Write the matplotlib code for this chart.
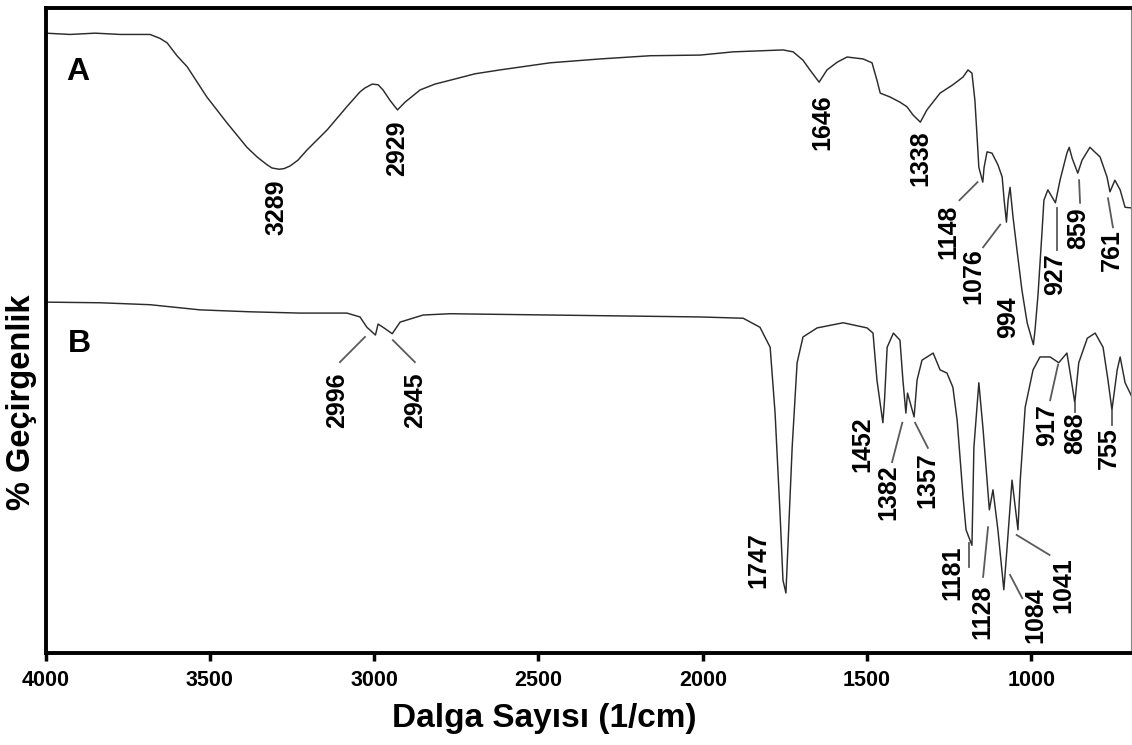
import matplotlib
matplotlib.use("Agg")
import matplotlib.pyplot as plt
from matplotlib import font_manager

# ---------------- data (y in arbitrary % transmittance) ----
wnA = [4000, 3925, 3849, 3773, 3682, 3652, 3630, 3600, 3569, 3509, 3448, 3387, 3356,
       3326, 3311, 3289, 3274, 3256, 3232, 3204, 3143, 3083, 3043, 3028, 3006, 2988,
       2973, 2952, 2929, 2906, 2860, 2815, 2769, 2693, 2617, 2465, 2313, 2160, 2008,
       1908, 1756, 1725, 1695, 1674, 1646, 1622, 1591, 1561, 1512, 1485, 1470, 1460,
       1430, 1400, 1379, 1360, 1338, 1318, 1278, 1239, 1208, 1193, 1181, 1172, 1166,
       1160, 1148, 1144, 1135, 1120, 1102, 1089, 1083, 1076, 1071, 1065, 1056, 1044,
       1029, 1013, 994, 989, 980, 968, 962, 950, 927, 913, 892, 885, 876, 859, 846, 822,
       791, 770, 761, 746, 730, 715, 694]
tA = [96.1, 95.9, 96.1, 95.9, 95.9, 95.3, 94.6, 92.6, 90.9, 86.2, 82.2, 78.4, 76.9,
      75.7, 75.2, 75.0, 75.1, 75.5, 76.4, 78.0, 81.1, 84.7, 87.0, 87.6, 88.2, 88.1,
      87.3, 85.7, 84.2, 85.4, 87.3, 88.2, 88.8, 89.8, 90.4, 91.5, 92.1, 92.6, 92.7,
      93.2, 93.5, 93.2, 91.9, 90.4, 88.5, 90.4, 91.6, 92.4, 92.1, 91.5, 88.8, 86.8,
      86.2, 85.4, 84.7, 83.4, 82.3, 84.2, 86.8, 88.1, 89.3, 90.4, 89.9, 85.7, 80.6,
      75.3, 73.0, 75.3, 77.7, 77.5, 75.7, 73.8, 70.2, 66.8, 70.2, 72.2, 67.6, 62.5,
      56.3, 51.2, 47.8, 50.1, 55.5, 65.1, 70.2, 71.8, 69.8, 73.3, 77.5, 78.4, 76.7,
      74.4, 76.4, 78.4, 76.9, 73.8, 71.5, 73.3, 71.8, 69.1, 69.0]

wnB = [4000, 3834, 3682, 3530, 3378, 3226, 3083, 3043, 3022, 2996, 2988, 2970, 2945,
       2921, 2851, 2769, 2465, 2160, 2008, 1877, 1826, 1795, 1780, 1765, 1756, 1747,
       1741, 1728, 1713, 1695, 1652, 1573, 1500, 1482, 1470, 1452, 1447, 1439, 1420,
       1400, 1391, 1382, 1377, 1357, 1348, 1333, 1299, 1278, 1257, 1239, 1226, 1208,
       1199, 1181, 1175, 1160, 1147, 1128, 1117, 1102, 1084, 1074, 1059, 1041, 1034,
       1019, 995, 974, 943, 917, 892, 882, 868, 856, 830, 806, 782, 767, 755, 739, 730,
       715, 694]
tB = [54.4, 54.3, 54.0, 53.2, 52.9, 52.7, 52.7, 52.1, 50.5, 49.3, 51.0, 50.4, 49.5,
      51.3, 52.4, 52.6, 52.4, 52.2, 52.1, 51.9, 50.5, 47.4, 37.2, 21.7, 11.3, 9.3,
      16.4, 31.9, 45.0, 49.0, 50.4, 51.2, 50.4, 49.6, 42.3, 35.7, 39.2, 47.4, 49.6,
      48.5, 42.3, 37.2, 40.3, 36.6, 42.3, 45.4, 46.5, 43.9, 43.4, 41.2, 36.1, 24.2,
      19.1, 16.7, 31.9, 41.9, 34.6, 22.2, 25.3, 19.1, 9.8, 16.4, 26.8, 19.1, 26.8,
      38.1, 43.9, 45.9, 45.9, 45.0, 46.5, 43.4, 38.8, 45.0, 48.8, 49.6, 47.4, 42.3,
      37.7, 43.9, 45.9, 41.9, 39.7]

xticks = [4000, 3500, 3000, 2500, 2000, 1500, 1000]

# peak labels: text, label centre (wn, T), leader line ((wn1, T1), (wn2, T2)) or None
peaksA = ["3289", "2929", "1646", "1338", "1148", "1076", "994", "927", "859", "761"]
posA = [(3296, 69.1), (2930, 78.2), (1637, 82.3), (1339, 76.7), (1254, 65.3),
        (1178, 58.4), (1071, 52.1), (928, 58.8), (858, 65.9), (755, 62.5)]
leadA = [None, None, None, None, ((1219, 70.2), (1164, 73.0)),
         ((1147, 62.9), (1095, 66.4)), None, ((922, 69.0), (922, 62.5)),
         ((855, 73.3), (852, 69.8)), ((767, 70.5), (752, 66.0))]

peaksB = ["2996", "2945", "1747", "1452", "1382", "1357", "1181", "1128", "1084",
          "1041", "917", "868", "755"]
posB = [(3113, 39.2), (2876, 39.2), (1832, 14.4), (1515, 32.4), (1436, 25.0),
        (1318, 26.8), (1242, 12.4), (1150, 6.4), (989, 5.9), (904, 10.5),
        (952, 35.3), (867, 34.1), (764, 31.8)]
leadB = [((3028, 49.0), (3104, 45.1)), ((2943, 48.5), (2876, 45.1)), None, None,
         ((1393, 35.7), (1424, 29.6)), ((1354, 35.7), (1315, 31.8)),
         ((1190, 17.1), (1190, 13.3)), ((1132, 19.5), (1147, 11.8)),
         ((1065, 12.1), (1028, 8.5)), ((1045, 18.3), (945, 15.2)),
         ((919, 44.7), (943, 39.2)), ((867, 38.8), (867, 37.4)),
         ((755, 37.7), (755, 35.3))]

# ---------------- fonts ----------------
names = {f.name for f in font_manager.fontManager.ttflist}
NARROW = 'Liberation Sans Narrow' in names
if NARROW:
    numfam = ['Liberation Sans Narrow', 'Liberation Sans', 'DejaVu Sans']
    tick_fs, peak_fs = 17.5, 20.5
else:
    numfam = ['Liberation Sans', 'DejaVu Sans']
    tick_fs, peak_fs = 15.5, 18
txtfam = ['Liberation Sans', 'DejaVu Sans']
plt.rcParams['font.family'] = txtfam

W, H = 1132, 745
fig = plt.figure(figsize=(W / 100, H / 100), dpi=100)
ax = fig.add_axes([45.5 / W, 92 / H, 1085.5 / W, 645 / H])

line_col = '#2b2b2b'
ax.plot(wnA, tA, color=line_col, lw=1.05)
ax.plot(wnB, tB, color=line_col, lw=1.05)

ax.set_xlim(4000, 697)
ax.set_ylim(0, 100)
ax.set_yticks([])
ax.set_xticks(xticks)
ax.set_xticklabels([str(t) for t in xticks], fontfamily=numfam,
                   fontweight='bold', fontsize=tick_fs)
ax.tick_params(axis='x', direction='out', length=6, width=2.5, pad=6, colors='black')

for s in ['left', 'top', 'bottom']:
    ax.spines[s].set_linewidth(2.8)
    ax.spines[s].set_color('black')
ax.spines['right'].set_linewidth(0.8)
ax.spines['right'].set_color('#888888')

lead_col = '#5a5a5a'
for labels, pos, lead in [(peaksA, posA, leadA), (peaksB, posB, leadB)]:
    for lab, (x, y), ld in zip(labels, pos, lead):
        ax.text(x, y, lab, rotation=90, ha='center', va='center',
                fontfamily=numfam, fontweight='bold', fontsize=peak_fs, color='black')
        if ld is not None:
            (x1, y1), (x2, y2) = ld
            ax.plot([x1, x2], [y1, y2], color=lead_col, lw=1.3)

ax.text(3901, 88.8, 'A', ha='center', va='baseline', fontsize=23, fontweight='bold')
ax.text(3898, 46.7, 'B', ha='center', va='baseline', fontsize=23, fontweight='bold')

fig.text(22 / W, 1 - 402 / H, '% Geçirgenlik', rotation=90, ha='center', va='center',
         fontsize=23.5, fontweight='bold')
fig.text(544 / W, 1 - 718 / H, 'Dalga Sayısı (1/cm)', ha='center', va='center',
         fontsize=24, fontweight='bold')

fig.savefig('out.png', dpi=100)
